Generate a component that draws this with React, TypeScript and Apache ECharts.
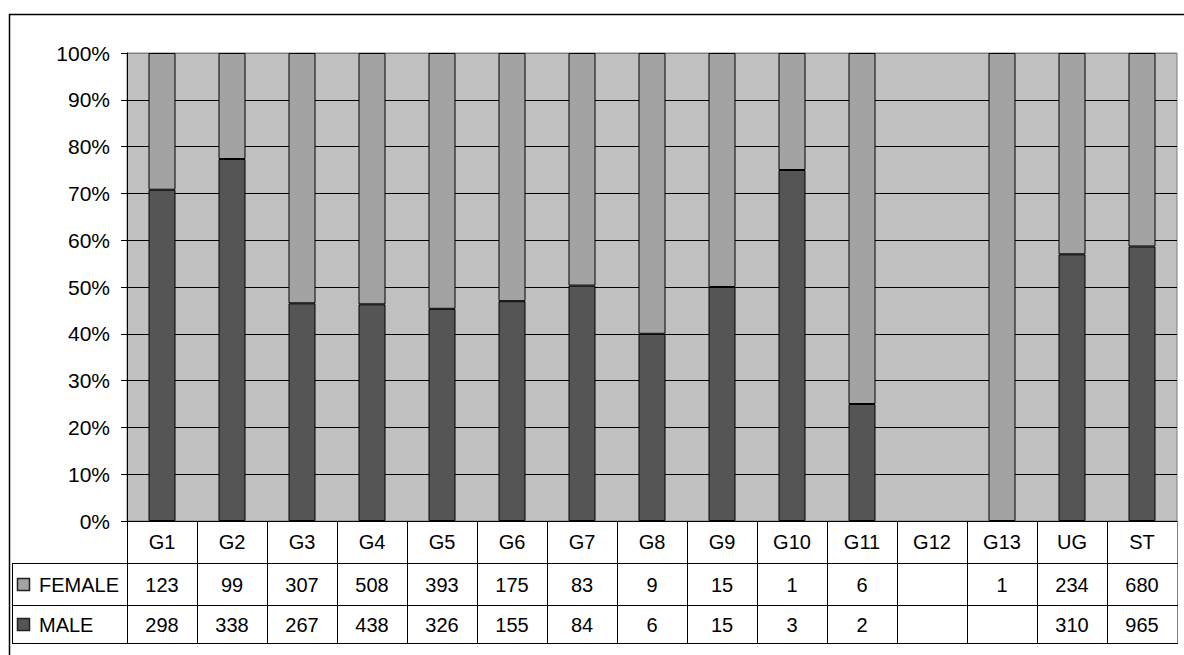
import React, { useEffect, useRef } from "react";
import * as echarts from "echarts";

const categories = ["G1", "G2", "G3", "G4", "G5", "G6", "G7", "G8", "G9", "G10", "G11", "G12", "G13", "UG", "ST"];
const female: (number | null)[] = [123, 99, 307, 508, 393, 175, 83, 9, 15, 1, 6, null, 1, 234, 680];
const male: (number | null)[] = [298, 338, 267, 438, 326, 155, 84, 6, 15, 3, 2, null, null, 310, 965];
const yTicks = [0, 10, 20, 30, 40, 50, 60, 70, 80, 90, 100];
const seriesNames = ["FEMALE", "MALE"];

const FEMALE_COLOR = "#A3A3A3";
const MALE_COLOR = "#555555";
const FONT = "Liberation Sans, Arial, sans-serif";

function share(a: number | null, b: number | null): number | null {
  if (a == null) return null;
  const y = b ?? 0;
  if (a + y === 0) return null;
  return (a / (a + y)) * 100;
}

const malePct = categories.map((_, i) => share(male[i], female[i]));
const femalePct = categories.map((_, i) => share(female[i], male[i]));

export default function App() {
  const ref = useRef<HTMLDivElement>(null);
  useEffect(() => {
    if (!ref.current) return;
    const chart = echarts.init(ref.current, undefined, { renderer: "svg" });
    const GL = 127;
    const GR = 1177;
    const GT = 53;
    const GB = 521;
    const R1 = 563;
    const R2 = 605;
    const R3 = 643;
    const TL = 12;
    chart.setOption({
      animation: false,
      textStyle: { fontFamily: FONT },
      grid: {
        left: GL,
        top: GT,
        width: GR - GL,
        height: GB - GT,
        show: true,
        backgroundColor: "#C0C0C0",
        borderColor: "#808080",
        borderWidth: 1,
      },
      xAxis: {
        type: "category",
        data: categories,
        axisLine: { lineStyle: { color: "#000", width: 1 } },
        axisTick: { show: false },
        axisLabel: {
          margin: 21,
          verticalAlign: "middle",
          color: "#000",
          fontSize: 20,
          fontFamily: FONT,
        },
      },
      yAxis: {
        type: "value",
        min: yTicks[0],
        max: yTicks[yTicks.length - 1],
        interval: 10,
        axisLine: { show: true, lineStyle: { color: "#000", width: 1 } },
        axisTick: { show: true, length: 6, lineStyle: { color: "#000" } },
        axisLabel: {
          formatter: "{value}%",
          margin: 17,
          color: "#000",
          fontSize: 21,
          fontFamily: FONT,
        },
        splitLine: {
          show: true,
          lineStyle: {
            color: ["#000", "#000", "#000", "#000", "#000", "#000", "#000", "#000", "#000", "#000", "#808080"],
            width: 1,
          },
        },
      },
      series: [
        {
          name: seriesNames[1],
          type: "bar",
          stack: "total",
          data: malePct,
          barWidth: 27,
          itemStyle: { color: MALE_COLOR, borderColor: "#000", borderWidth: 1 },
        },
        {
          name: seriesNames[0],
          type: "bar",
          stack: "total",
          data: femalePct,
          barWidth: 27,
          itemStyle: { color: FEMALE_COLOR, borderColor: "#000", borderWidth: 1 },
        },
      ],
    });

    const band = (GR - GL) / categories.length;
    const elements: any[] = [];
    elements.push({
      type: "rect",
      shape: { x: 9.5, y: 14.5, width: 1200, height: 700 },
      style: { fill: "none", stroke: "#000", lineWidth: 1.5 },
      silent: true,
    });
    for (let k = 0; k < categories.length; k++) {
      const x = Math.round(GL + k * band) + 0.5;
      elements.push({
        type: "line",
        shape: { x1: x, y1: GB, x2: x, y2: R3 },
        style: { stroke: "#000", lineWidth: 1 },
      });
    }
    elements.push({
      type: "line",
      shape: { x1: GR + 0.5, y1: GB, x2: GR + 0.5, y2: R3 },
      style: { stroke: "#808080", lineWidth: 1 },
    });
    [R1, R2, R3].forEach((y) => {
      elements.push({
        type: "line",
        shape: { x1: TL, y1: y + 0.5, x2: GR + 1, y2: y + 0.5 },
        style: { stroke: "#000", lineWidth: 1 },
      });
    });
    elements.push({
      type: "line",
      shape: { x1: TL + 0.5, y1: R1, x2: TL + 0.5, y2: R3 },
      style: { stroke: "#000", lineWidth: 1 },
    });
    const rows = [
      { name: seriesNames[0], values: female, color: FEMALE_COLOR, yc: (R1 + R2) / 2 },
      { name: seriesNames[1], values: male, color: MALE_COLOR, yc: (R2 + R3) / 2 },
    ];
    rows.forEach((row) => {
      elements.push({
        type: "rect",
        shape: { x: 17.5, y: Math.round(row.yc - 6) + 0.5, width: 12, height: 12 },
        style: { fill: row.color, stroke: "#222", lineWidth: 1.5 },
      });
      elements.push({
        type: "text",
        x: 39,
        y: row.yc + 1,
        style: {
          text: row.name,
          fill: "#000",
          font: `20px ${FONT}`,
          textAlign: "left",
          textVerticalAlign: "middle",
        },
      });
      row.values.forEach((v, i) => {
        if (v == null) return;
        const cx = chart.convertToPixel({ xAxisIndex: 0 }, categories[i]) as number;
        elements.push({
          type: "text",
          x: cx,
          y: row.yc + 1,
          style: {
            text: String(v),
            fill: "#000",
            font: `20px ${FONT}`,
            textAlign: "center",
            textVerticalAlign: "middle",
          },
        });
      });
    });
    chart.setOption({ graphic: { elements } });
    return () => chart.dispose();
  }, []);
  return (
    <div
      ref={ref}
      style={{ position: "fixed", left: 0, top: 0, width: 1184, height: 655, background: "#fff" }}
    />
  );
}
